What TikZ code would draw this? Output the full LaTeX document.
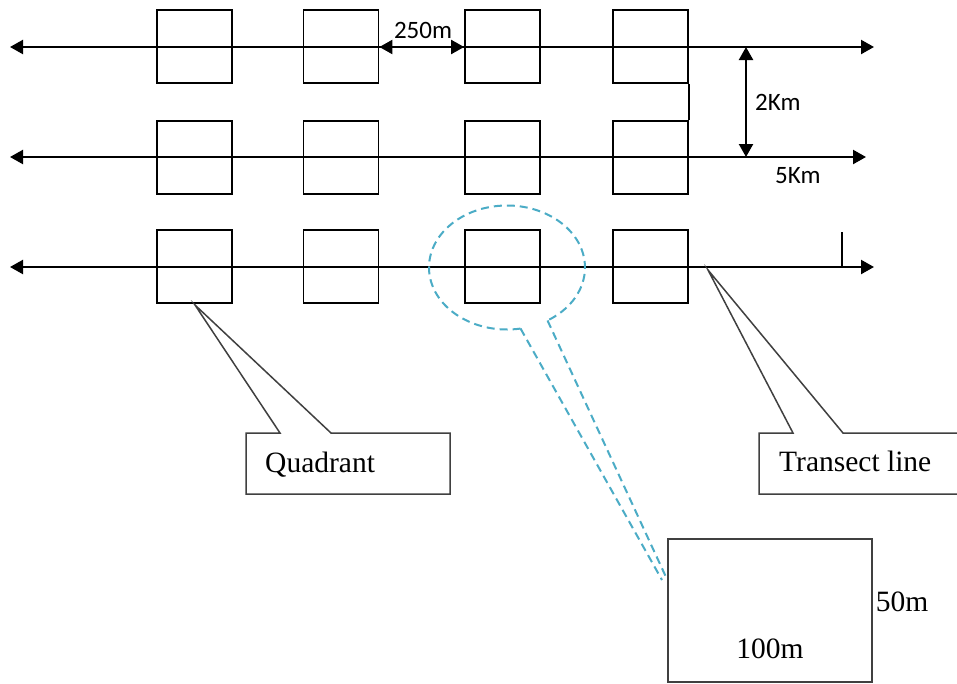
\documentclass[tikz,border=0pt]{standalone}
\usepackage{fontspec}
\setmainfont{Liberation Serif}
\newfontfamily\calib{Carlito}
\usetikzlibrary{arrows.meta}
\definecolor{callblue}{HTML}{4BACC6}
\definecolor{callgray}{HTML}{404040}
\tikzset{
  quadbox/.style={draw, line width=1.8pt, minimum width=75pt, minimum height=73pt, inner sep=0pt},
  tline/.style={line width=2.2pt, {Triangle[length=13pt,width=14pt]}-{Triangle[length=13pt,width=14pt]}},
  dimline/.style={line width=2.2pt, {Triangle[length=13pt,width=14pt]}-{Triangle[length=13pt,width=14pt]}},
  calloutline/.style={draw=callgray, line width=1.5pt, fill=white},
  zoomline/.style={draw=callblue, line width=2pt, dash pattern=on 8pt off 5pt},
  sanslabel/.style={font=\calib\fontsize{25}{28}\selectfont, inner sep=0pt, anchor=base},
  seriflabel/.style={font=\fontsize{29.5}{32}\selectfont, inner sep=0pt, anchor=base}
}
\begin{document}
\begin{tikzpicture}[x=1pt,y=-1pt]
\useasboundingbox (0,0) rectangle (957,683);
\clip (0,0) rectangle (957,683);
\fill[white] (0,0) rectangle (957,683);

% transect line end points
\coordinate (l1) at (10,47);  \coordinate (r1) at (874,47);
\coordinate (l2) at (10,157); \coordinate (r2) at (866,157);
\coordinate (l3) at (10,267); \coordinate (r3) at (874,267);

% quadrats
\foreach \r/\y in {1/46.5,2/157.5,3/266.5}{
  \foreach \c/\x in {1/194.5,2/341,3/502.5,4/650.5}{
    \node[quadbox] (q\r\c) at (\x,\y) {};
  }
}

% transect lines
\draw[tline] (l1) -- (r1);
\draw[tline] (l2) -- (r2);
\draw[tline] (l3) -- (r3);

% connector between right quadrats of rows 1 and 2
\draw[line width=1.8pt] (q14.south east) -- (q24.north east);

% 250m dimension
\draw[dimline] (q12.east |- l1) -- (q13.west |- l1);
\node[sanslabel] (t250) at (423,38) {250m};

% 2Km dimension
\coordinate (d1) at (746,47);
\coordinate (d2) at (746,157);
\draw[dimline] (d1) -- (d2);
\node[sanslabel, anchor=base west] (t2km) at (755,110) {2Km};
\node[sanslabel, anchor=base west] (t5km) at (775,183) {5Km};

% small tick on third line
\coordinate (k1) at (842,232);
\coordinate (k2) at (842,266);
\draw[line width=2.4pt] (k1) -- (k2);

% dashed zoom ellipse and its tail
\coordinate (ec) at (507,267.5);
\coordinate (e1) at ([shift={(80:78 and 62)}]ec);
\coordinate (e2) at ([shift={(58.7:78 and 62)}]ec);
\coordinate (z1) at (662,580);
\coordinate (z2) at (666,577);
\draw[zoomline] (e1) arc[start angle=80, end angle=418.7, x radius=78, y radius=62];
\draw[zoomline] (e1) -- (z1);
\draw[zoomline] (e2) -- (z2);

% detail quadrat
\node[draw=callgray, line width=1.6pt, minimum width=204pt, minimum height=143pt, inner sep=0pt] (big) at (770,610.5) {};
\node[seriflabel] (t100) at (770,658) {100m};
\node[seriflabel] (t50) at (902,611) {50m};

% Quadrant callout
\coordinate (qa) at (195,305);
\draw[calloutline] (246,433) -- (280,433) -- (qa) -- (331,433) -- (450,433) -- (450,494) -- (246,494) -- cycle;
\node[seriflabel, anchor=base west] (tq) at (265,472) {Quadrant};

% Transect line callout
\coordinate (ta) at (708,270);
\draw[calloutline] (759,433) -- (793,433) -- (ta) -- (843,433) -- (970,433) -- (970,494) -- (759,494) -- cycle;
\node[seriflabel, anchor=base west] (tt) at (779,471) {Transect line};
\end{tikzpicture}
\end{document}
